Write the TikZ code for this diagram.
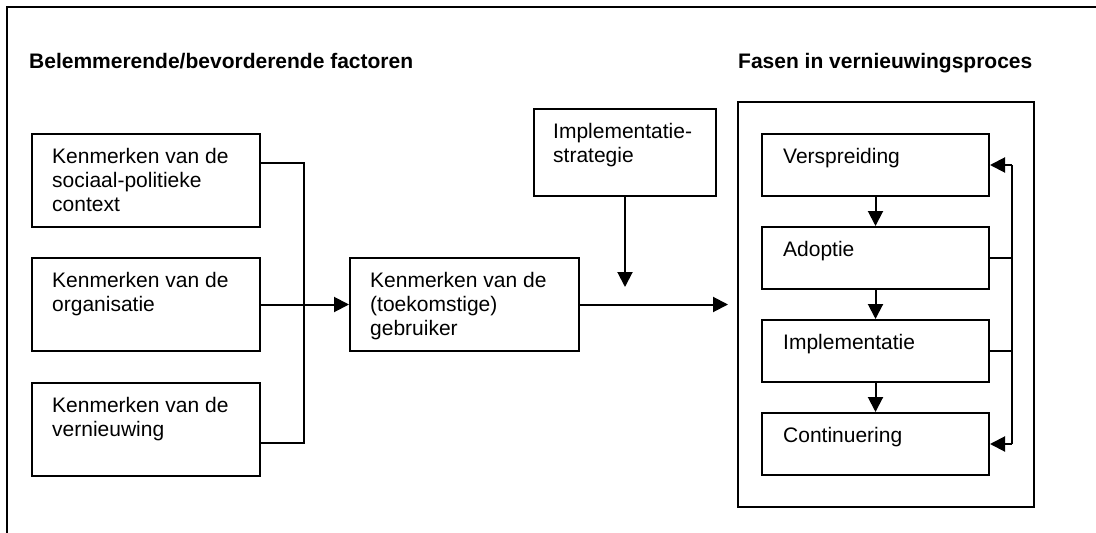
\documentclass[tikz,border=0pt]{standalone}
\usepackage{fontspec}
\setmainfont{Liberation Sans}
\usetikzlibrary{arrows.meta,calc}
\begin{document}
\begin{tikzpicture}[x=1pt,y=-1pt,
  box/.style={draw, line width=2pt, anchor=north west, inner sep=0pt},
  txt/.style={anchor=north west, inner sep=0pt, align=left,
    font=\fontsize{21}{24}\selectfont},
  ttl/.style={anchor=base west, inner sep=0pt,
    font=\fontsize{21}{24}\selectfont\bfseries},
  conn/.style={line width=2pt},
  arr/.style={line width=2pt, -{Triangle[length=15pt,width=15pt]}}]
\useasboundingbox (0,0) rectangle (1096,533);

% outer frame (only left and top edges are in view)
\draw[line width=2pt] (7,533) -- (7,7) -- (1096,7);

% headings
\node[ttl] (hleft) at (29,68) {Belemmerende/bevorderende factoren};
\node[ttl] (hright) at (738,68) {Fasen in vernieuwingsproces};

% factor boxes
\node[box, minimum width=228pt, minimum height=93pt] (k1) at (31,133) {};
\node[txt] (t1) at ([xshift=21pt,yshift=-14.7pt]k1.north west) {Kenmerken van de\\sociaal-politieke\\context};
\node[box, minimum width=228pt, minimum height=93pt] (k2) at (31,257) {};
\node[txt] (t2) at ([xshift=21pt,yshift=-14.7pt]k2.north west) {Kenmerken van de\\organisatie};
\node[box, minimum width=228pt, minimum height=93pt] (k3) at (31,382) {};
\node[txt] (t3) at ([xshift=21pt,yshift=-14.7pt]k3.north west) {Kenmerken van de\\vernieuwing};

% user box
\node[box, minimum width=229pt, minimum height=93pt] (gb) at (349,257) {};
\node[txt] (tgb) at ([xshift=21pt,yshift=-14.7pt]gb.north west) {Kenmerken van de\\(toekomstige)\\gebruiker};

% strategy box
\node[box, minimum width=182pt, minimum height=87pt] (is) at (533,108) {};
\node[txt] (tis) at ([xshift=20pt,yshift=-14.7pt]is.north west) {Implementatie-\\strategie};

% phases
\node[box, minimum width=296pt, minimum height=405pt] (fase) at (737,101) {};
\node[box, minimum width=227pt, minimum height=62pt] (vs) at (761,133) {};
\node[txt] (tvs) at ([xshift=22pt,yshift=-14.7pt]vs.north west) {Verspreiding};
\node[box, minimum width=227pt, minimum height=62pt] (ad) at (761,226) {};
\node[txt] (tad) at ([xshift=22pt,yshift=-14.7pt]ad.north west) {Adoptie};
\node[box, minimum width=227pt, minimum height=62pt] (im) at (761,319) {};
\node[txt] (tim) at ([xshift=22pt,yshift=-14.7pt]im.north west) {Implementatie};
\node[box, minimum width=227pt, minimum height=62pt] (co) at (761,412) {};
\node[txt] (tco) at ([xshift=22pt,yshift=-14.7pt]co.north west) {Continuering};

% factors feed into the user box
\coordinate (bus) at (k2.east -| 304,0);
\draw[conn] ($(k1.north east)+(0,30)$) -| (bus);
\draw[conn] ($(k3.north east)+(0,61)$) -| (bus);
\draw[conn] (k2.east) -- (bus);
\draw[arr] (bus) -- (gb.west);

% user box and strategy towards the phases
\coordinate (drop) at (is.south |- 0,287);
\draw[arr] (is.south) -- (drop);
\draw[arr] (gb.east) -- ($(gb.east -| fase.west)+(-9,0)$);

% sequence of phases
\draw[arr] (vs.south) -- (ad.north);
\draw[arr] (ad.south) -- (im.north);
\draw[arr] (im.south) -- (co.north);

% feedback loop
\coordinate (fbtop) at (vs.east -| 1012,0);
\coordinate (fbbot) at (co.east -| 1012,0);
\draw[conn] (fbtop) -- (fbbot);
\draw[arr] (fbtop) -- (vs.east);
\draw[arr] (fbbot) -- (co.east);
\draw[conn] (ad.east) -- (ad.east -| fbtop);
\draw[conn] (im.east) -- (im.east -| fbtop);
\end{tikzpicture}
\end{document}
